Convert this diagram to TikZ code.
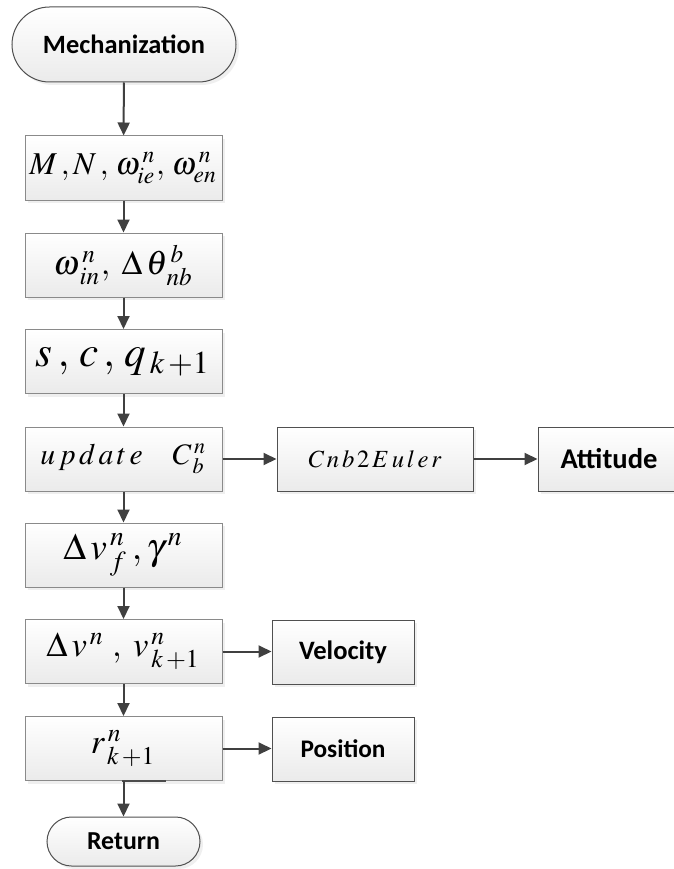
\documentclass[tikz,border=0pt]{standalone}
\usepackage{mathptmx}
\usepackage{graphicx}
\usepackage{fontspec}
\newfontfamily\labfont{Carlito}
\usetikzlibrary{shapes.misc,shadows,arrows.meta,calc}
\newcommand{\fitw}[2]{\resizebox{#1pt}{!}{#2}}
\definecolor{arrowc}{HTML}{404040}
\definecolor{edgeA}{HTML}{8A8A8A}
\definecolor{edgeB}{HTML}{505050}
\tikzset{
  shade box/.style={top color=white, bottom color=black!8, inner sep=0pt,
    drop shadow={shadow xshift=3pt, shadow yshift=-3pt, fill=black!12}},
  leftbox/.style={shade box, rectangle, draw=edgeA, line width=1pt,
    minimum width=197pt, minimum height=64pt},
  rightbox/.style={shade box, rectangle, draw=edgeB, line width=1pt,
    minimum height=64pt},
  term/.style={shade box, rounded rectangle, draw=edgeB, line width=1pt},
  flow/.style={draw=arrowc, line width=2pt, -{Triangle[length=13pt,width=12pt]}}
}
\begin{document}
\begin{tikzpicture}[x=1pt,y=-1pt]
\useasboundingbox (0,0) rectangle (673,869);
\node[term, minimum width=224pt, minimum height=75pt] (mech) at (124,44.5)
  {\fitw{162}{\labfont\bfseries Mechanization}};
\node[leftbox] (b1) at (123.5,168)
  {\fitw{188}{$M\,,N\,,\,\omega^{\,n}_{ie},\,\omega^{\,n}_{en}$}};
\node[leftbox] (b2) at (123.5,265)
  {\fitw{140}{$\omega^{\,n}_{\,in},\;\Delta\,\theta^{\,b}_{\,nb}$}};
\node[leftbox] (b3) at (123.5,361.5)
  {\fitw{175}{$s\,,\,c\,,\,q_{\,k\,+1}$}};
\node[leftbox] (b4) at (123.5,459)
  {\fitw{166}{$u\,p\,d\,a\,t\,e\quad C^{\,n}_{\,b}$}};
\node[leftbox] (b5) at (123.5,555)
  {\fitw{120}{$\Delta\,v^{\,n}_{\,f}\,,\gamma^{\,n}$}};
\node[leftbox] (b6) at (123.5,651.5)
  {\fitw{154}{$\Delta\,v^{\,n}\;,\;v^{\,n}_{\,k\,+1}$}};
\node[leftbox] (b7) at (123.5,748.5)
  {\fitw{65}{$r^{\,n}_{\,k\,+1}$}};
\draw[draw=black!70, line width=1.4pt] ($(b7.south)+(-1.5,0)$) -- ($(b7.south)+(42.5,0)$);
\node[term, minimum width=153pt, minimum height=49pt] (ret) at (123.5,841.5)
  {\fitw{73}{\labfont\bfseries Return}};
\node[rightbox, minimum width=196pt] (cnb) at (375,459)
  {\fitw{133}{$C\,n\,b\,2\,E\,u\,l\,e\,r$}};
\node[rightbox, minimum width=142pt] (att) at (609,459)
  {\fitw{97}{\labfont\bfseries Attitude}};
\node[rightbox, minimum width=142pt] (vel) at (343,652)
  {\fitw{88}{\labfont\bfseries Velocity}};
\node[rightbox, minimum width=142pt] (pos) at (343,749)
  {\fitw{85}{\labfont\bfseries Position}};
\draw[flow] (mech) -- (b1);
\draw[flow] (b1) -- (b2);
\draw[flow] (b2) -- (b3);
\draw[flow] (b3) -- (b4);
\draw[flow] (b4) -- (b5);
\draw[flow] (b5) -- (b6);
\draw[flow] (b6) -- (b7);
\draw[flow] (b7) -- (ret);
\draw[flow] (b4) -- (cnb);
\draw[flow] (cnb) -- (att);
\draw[flow] (b6.east) -- (vel.west |- b6.east);
\draw[flow] (b7.east) -- (pos.west |- b7.east);
\end{tikzpicture}
\end{document}
